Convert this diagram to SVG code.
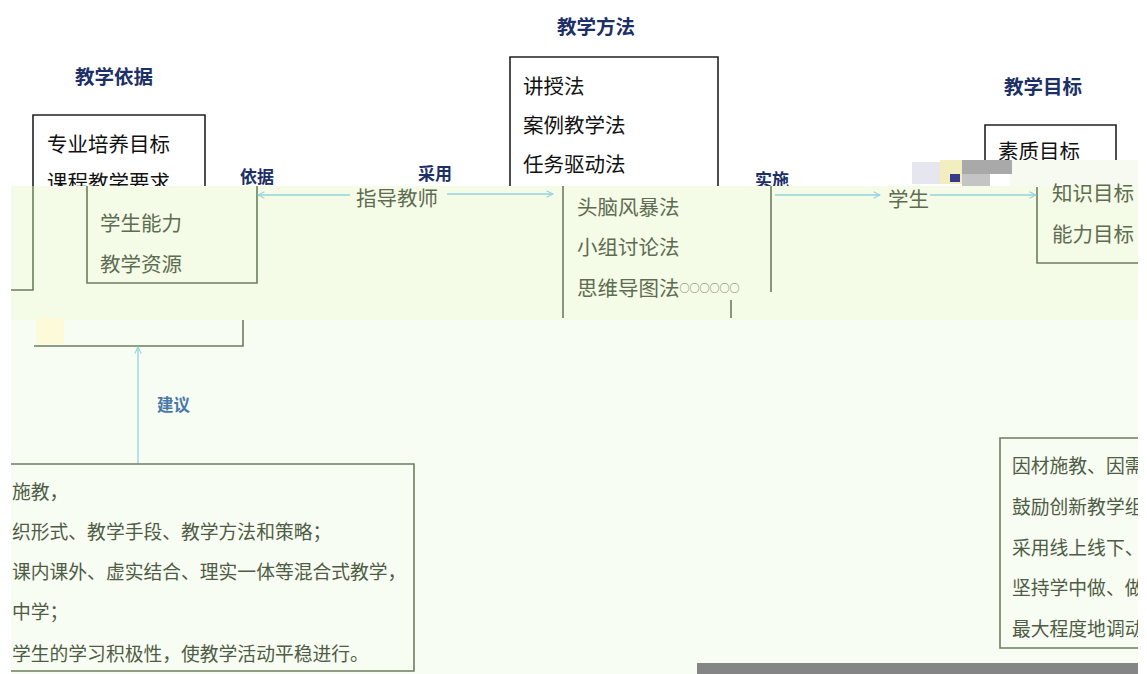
<svg xmlns="http://www.w3.org/2000/svg" width="1147" height="674" viewBox="0 0 1147 674">
<defs>
<style>
.t{font-family:"Noto Sans CJK SC","Noto Sans",sans-serif;dominant-baseline:central}
.blk{font-size:20.5px;fill:#111}
.gr{font-size:20.5px;fill:#5e6c52}
.sm{font-size:18.8px;fill:#4f5c45}
.hd{font-size:19.5px;font-weight:bold;fill:#1c2f66}
.lb{font-size:17px;font-weight:bold;fill:#1c2f66}
.lb2{font-size:16.5px;font-weight:bold;fill:#4a78a8}
.bk{fill:none;stroke:#222;stroke-width:1.6}
.gb{fill:none;stroke:#6e7d60;stroke-width:1.6}
.ar{fill:none;stroke:#93d3df;stroke-width:1.3}
</style>
<marker id="ah" viewBox="0 0 10 10" refX="9" refY="5" markerWidth="8" markerHeight="8" orient="auto-start-reverse" markerUnits="userSpaceOnUse">
<path d="M1,1 L9,5 L1,9" fill="none" stroke="#93d3df" stroke-width="1.3"/>
</marker>
<clipPath id="cr"><rect x="0" y="0" width="1138" height="674"/></clipPath>
</defs>
<rect width="1147" height="674" fill="#fff"/>

<!-- top (white) parts -->
<g id="basis-head"><text class="t hd" x="75" y="75">教学依据</text></g>
<g id="basis-box">
<path class="bk" d="M33,290 V115 H205 V190"/>
<text class="t blk" x="47" y="143">专业培养目标</text>
<text class="t blk" x="47" y="181">课程教学要求</text>
</g>
<g id="method-head"><text class="t hd" x="557" y="25">教学方法</text></g>
<g id="method-box">
<path class="bk" d="M510,190 V57 H718 V190"/>
<text class="t blk" x="523" y="85">讲授法</text>
<text class="t blk" x="523" y="124">案例教学法</text>
<text class="t blk" x="523" y="163">任务驱动法</text>
</g>
<g id="goal-head"><text class="t hd" x="1004" y="85">教学目标</text></g>
<g id="goal-box">
<path class="bk" d="M985,190 V125 H1116 V190"/>
<text class="t blk" x="998" y="150">素质目标</text>
</g>
<g id="labels-top">
<text class="t lb" x="240" y="175">依据</text>
<text class="t lb" x="418" y="172">采用</text>
<text class="t lb" x="755" y="178">实施</text>
</g>

<!-- noise patch -->
<g id="artifact">
<rect x="1010" y="160" width="128" height="27" fill="#f7faf0"/>
<rect x="912" y="162" width="30" height="22" fill="#e6e6ee"/>
<rect x="940" y="160" width="22" height="24" fill="#f2eec0"/>
<rect x="962" y="160" width="50" height="14" fill="#a9a9a9"/>
<rect x="962" y="174" width="28" height="12" fill="#c4c4c4"/>
<rect x="950" y="174" width="10" height="8" fill="#3a3a8a"/>
</g>

<!-- background bands -->
<rect x="11" y="186" width="1127" height="134" fill="#f4fbe6"/>
<rect x="11" y="320" width="1127" height="354" fill="#f7fdf3"/>
<rect x="36" y="318" width="28" height="26" fill="#fcfad8"/>

<!-- lower nodes -->
<g id="basis-lower">
<path class="gb" d="M11,290 H33 V186"/>
<path class="gb" d="M87,186 V283 H257 V186"/>
<text class="t gr" x="100" y="222">学生能力</text>
<text class="t gr" x="100" y="263">教学资源</text>
<path class="gb" d="M243,320 V346 H34"/>
</g>
<g id="teacher"><text class="t gr" x="356" y="197">指导教师</text></g>
<g id="method-lower">
<path class="gb" d="M563,186 V318"/>
<path class="gb" d="M771,186 V292"/>
<text class="t gr" x="577" y="206">头脑风暴法</text>
<text class="t gr" x="577" y="246">小组讨论法</text>
<text class="t gr" x="577" y="287">思维导图法<tspan font-size="10">○○○○○○</tspan></text>
<path class="gb" d="M731,300 V318"/>
</g>
<g id="student"><text class="t gr" x="888" y="198">学生</text></g>
<g id="goal-lower" clip-path="url(#cr)">
<path class="gb" d="M1037,187 V263 H1140"/>
<text class="t gr" x="1052" y="192">知识目标</text>
<text class="t gr" x="1052" y="233">能力目标</text>
</g>
<g id="suggest-label"><text class="t lb2" x="157" y="404">建议</text></g>

<g id="connectors">
<path class="ar" d="M350,195 H258" marker-end="url(#ah)"/>
<path class="ar" d="M447,194 H553" marker-end="url(#ah)"/>
<path class="ar" d="M775,195 H880" marker-end="url(#ah)"/>
<path class="ar" d="M930,195 H1036" marker-end="url(#ah)"/>
<path class="ar" d="M138,464 V347" marker-end="url(#ah)"/>
</g>

<g id="suggest-box">
<path class="gb" d="M11,464 H414 V671 H11"/>
<text class="t sm" x="12" y="490">施教，</text>
<text class="t sm" x="12" y="530">织形式、教学手段、教学方法和策略；</text>
<text class="t sm" x="12" y="570">课内课外、虚实结合、理实一体等混合式教学，</text>
<text class="t sm" x="12" y="610">中学；</text>
<text class="t sm" x="12" y="652">学生的学习积极性，使教学活动平稳进行。</text>
</g>
<g id="strategy-box" clip-path="url(#cr)">
<path class="gb" d="M1140,438 H1000 V648 H1140"/>
<text class="t sm" x="1012" y="464">因材施教、因需</text>
<text class="t sm" x="1012" y="505">鼓励创新教学组</text>
<text class="t sm" x="1012" y="546">采用线上线下、</text>
<text class="t sm" x="1012" y="586">坚持学中做、做</text>
<text class="t sm" x="1012" y="627">最大程度地调动</text>
</g>
<rect x="697" y="663" width="441" height="11" fill="#858585"/>
</svg>
